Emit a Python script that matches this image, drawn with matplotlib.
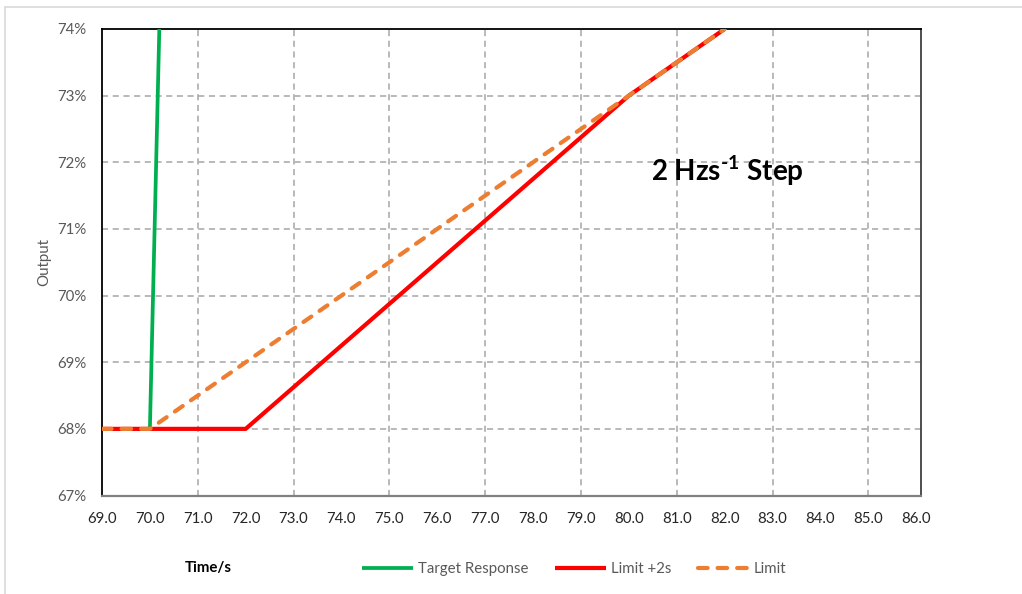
import matplotlib
matplotlib.use("Agg")
import matplotlib.pyplot as plt
from matplotlib.patches import Rectangle
from matplotlib.ticker import FixedLocator, FuncFormatter

plt.rcParams['font.family'] = ['Lato', 'DejaVu Sans']
plt.rcParams['mathtext.fontset'] = 'custom'
plt.rcParams['mathtext.rm'] = 'Lato:bold'
plt.rcParams['mathtext.bf'] = 'Lato:bold'

# ---- data ----
target_t = [69.0, 70.0, 70.2]
target_y = [68.0, 68.0, 74.1]

limit2_t = [69.0, 72.0, 80.0, 82.0]
limit2_y = [68.0, 68.0, 73.0, 74.0]

limit_t = [69.0, 70.0, 71.0, 72.0, 73.0, 74.0, 75.0, 76.0, 77.0, 78.0, 79.0, 80.0, 81.0, 82.0]
limit_y = [68.0, 68.0, 68.5, 69.0, 69.5, 70.0, 70.5, 71.0, 71.5, 72.0, 72.5, 73.0, 73.5, 74.0]

x_ticks = [69.0 + i for i in range(18)]
x_grid = [71, 73, 75, 77, 79, 81, 83, 85]
y_ticks = [67, 68, 69, 70, 71, 72, 73, 74]

series_names = ["Target Response", "Limit +2s", "Limit"]

# ---- figure ----
fig = plt.figure(figsize=(10.22, 5.94), dpi=100)
ax = fig.add_axes([0.0998, 0.1658, 0.9012 - 0.0998, 0.9512 - 0.1658])

# chart-area border (light gray, cut off at right/bottom)
fig.patches.append(Rectangle((5 / 1022, -0.1), 1.2, 1 - 7 / 594 + 0.1,
                             transform=fig.transFigure, fill=False,
                             edgecolor='#d9d9d9', linewidth=1.2, zorder=0))

ax.set_xlim(69, 86.1)
ax.set_ylim(67, 74)

for gx in x_grid:
    ax.axvline(gx, color='#a6a6a6', lw=1.1, ls=(0, (4, 3)), zorder=1)
for gy in y_ticks[1:-1]:
    ax.axhline(gy, color='#a6a6a6', lw=1.1, ls=(0, (4, 3)), zorder=1)

l1, = ax.plot(target_t, target_y, color='#00b050', lw=2.7, zorder=3,
              solid_capstyle='butt')
l2, = ax.plot(limit2_t, limit2_y, color='#ff0000', lw=3.0, zorder=4,
              solid_capstyle='butt')
l3, = ax.plot(limit_t, limit_y, color='#ed7d31', lw=3.0, zorder=5,
              ls=(0, (2.3, 2.4)), dash_capstyle='round')

ax.xaxis.set_major_locator(FixedLocator(x_ticks))
ax.xaxis.set_major_formatter(FuncFormatter(lambda v, p: f"{v:.1f}"))
ax.yaxis.set_major_locator(FixedLocator(y_ticks))
ax.yaxis.set_major_formatter(FuncFormatter(lambda v, p: f"{int(round(v))}%"))

ax.tick_params(axis='x', length=0, pad=12, labelsize=10.8, labelcolor='#262626')
ax.tick_params(axis='y', length=0, pad=11, labelsize=10.8, labelcolor='#595959')

ax.spines['left'].set_color('#000000')
ax.spines['top'].set_color('#000000')
ax.spines['right'].set_color('#404040')
ax.spines['bottom'].set_color('#808080')
for s in ax.spines.values():
    s.set_linewidth(1.3)
ax.spines['bottom'].set_linewidth(1.6)

ax.set_ylabel("Output", fontsize=10.8, color='#595959')
ax.yaxis.set_label_coords(-0.062, 0.5)

ax.text(82.05, 71.87, "2 Hzs$^{\\text{-1}}$ Step", fontsize=20, fontweight='bold',
        ha='center', va='center', color='#000000', zorder=6)

fig.text(208 / 1022, 1 - 568 / 594, "Time/s", fontsize=10.8, fontweight='bold',
         ha='center', va='center', color='#000000')

fig.legend([l1, l2, l3], series_names, loc='center', ncol=3,
           bbox_to_anchor=(574 / 1022, 1 - 569 / 594), frameon=False,
           fontsize=10.8, labelcolor='#595959', handlelength=3.4,
           handletextpad=0.3, columnspacing=1.8)

fig.savefig("out.png", dpi=100)
